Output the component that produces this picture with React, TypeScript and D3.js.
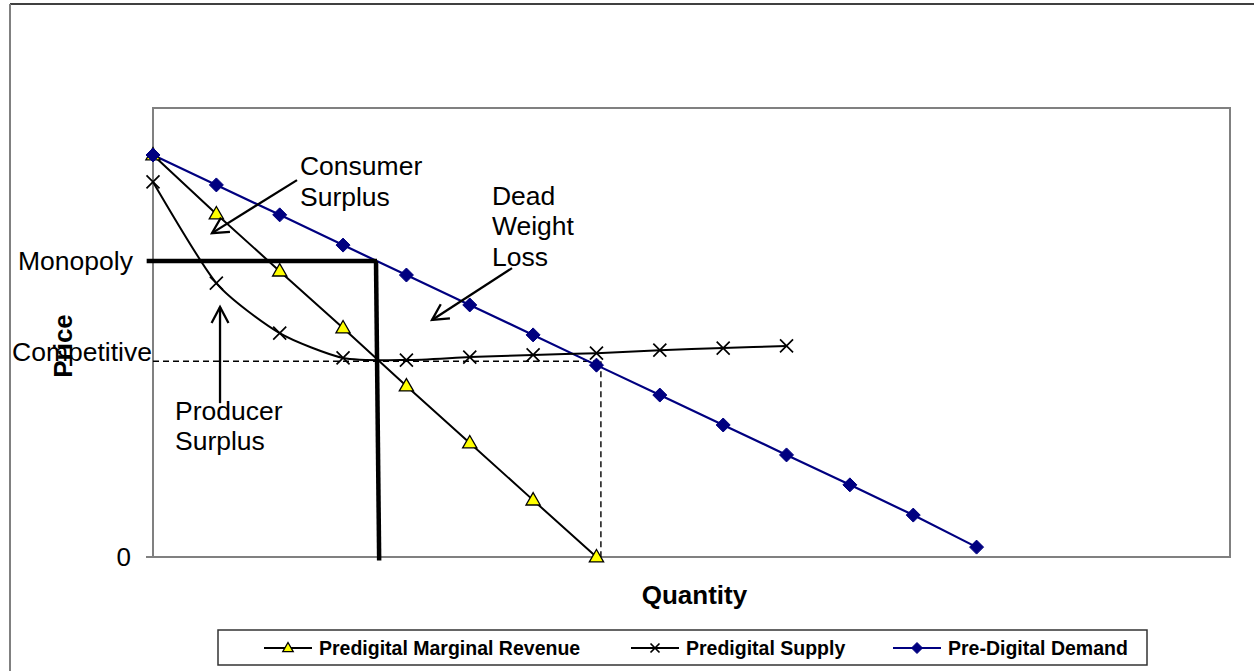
import React from "react";
import * as d3 from "d3";

// ---- data ----
const categories = ["1", "2", "3", "4", "5", "6", "7", "8", "9", "10", "11", "12", "13", "14", "15", "16", "17", "18"];
const demand = [13.43, 12.43, 11.43, 10.42, 9.42, 8.42, 7.42, 6.41, 5.41, 4.41, 3.41, 2.41, 1.4, 0.33];
const marginalRevenue = [13.43, 11.46, 9.55, 7.65, 5.71, 3.81, 1.9, 0];
const supply = [12.53, 9.15, 7.48, 6.65, 6.58, 6.68, 6.75, 6.81, 6.91, 6.98, 7.05];
const yTicks = [0];
const yDomain = [0, 15];

const monopolyPrice = 9.89;
const monopolyQty = 3.52;
const competitivePrice = 6.54;
const competitiveQty = 7.07;

const seriesNames = ["Predigital Marginal Revenue", "Predigital Supply", "Pre-Digital Demand"];

// annotations in data units (category index, price)
const annotations = [
  { lines: ["Consumer", "Surplus"], tx: 2.32, ty: 12.76, from: [2.273, 12.59], to: [0.931, 10.82] },
  { lines: ["Dead", "Weight", "Loss"], tx: 5.35, ty: 11.76, from: [5.667, 9.65], to: [4.404, 7.92] },
  { lines: ["Producer", "Surplus"], tx: 0.347, ty: 4.58, from: [1.058, 5.14], to: [1.058, 8.35] },
];

const W = 1254;
const H = 671;
const plot = { left: 153, top: 108, right: 1230, bottom: 557 };
const FONT = "Liberation Sans, Arial, Helvetica, sans-serif";

const x = d3.scaleLinear().domain([0, categories.length - 1]).range([plot.left, plot.right]);
const y = d3.scaleLinear().domain(yDomain).range([plot.bottom, plot.top]);

const straight = d3
  .line<number>()
  .x((_, i) => x(i))
  .y((d) => y(d));
const smooth = d3
  .line<number>()
  .x((_, i) => x(i))
  .y((d) => y(d))
  .curve(d3.curveCardinal.tension(0.35));

function Diamond({ cx, cy, r = 7 }: { cx: number; cy: number; r?: number }) {
  return <path d={`M${cx},${cy - r}L${cx + r},${cy}L${cx},${cy + r}L${cx - r},${cy}Z`} fill="#000080" stroke="#000080" strokeWidth={1} />;
}
function Triangle({ cx, cy, r = 7.5 }: { cx: number; cy: number; r?: number }) {
  return (
    <path
      d={`M${cx},${cy - r}L${cx + r * 0.95},${cy + r * 0.65}L${cx - r * 0.95},${cy + r * 0.65}Z`}
      fill="#ffff00"
      stroke="#000"
      strokeWidth={1.3}
    />
  );
}
function Cross({ cx, cy, r = 6.5 }: { cx: number; cy: number; r?: number }) {
  return <path d={`M${cx - r},${cy - r}L${cx + r},${cy + r}M${cx - r},${cy + r}L${cx + r},${cy - r}`} stroke="#000" strokeWidth={1.7} fill="none" />;
}

function Arrow({ from, to }: { from: number[]; to: number[] }) {
  const x1 = x(from[0]);
  const y1 = y(from[1]);
  const x2 = x(to[0]);
  const y2 = y(to[1]);
  const ang = Math.atan2(y2 - y1, x2 - x1);
  const L = 18;
  const a = (28 * Math.PI) / 180;
  const w1 = [x2 - L * Math.cos(ang - a), y2 - L * Math.sin(ang - a)];
  const w2 = [x2 - L * Math.cos(ang + a), y2 - L * Math.sin(ang + a)];
  return (
    <g stroke="#000" strokeWidth={2.3} fill="none">
      <line x1={x1} y1={y1} x2={x2} y2={y2} />
      <path d={`M${w1[0]},${w1[1]}L${x2},${y2}L${w2[0]},${w2[1]}`} />
    </g>
  );
}

export default function App() {
  const legendY = 648;
  const legendItems = [
    { lx: 264, kind: "tri" },
    { lx: 631, kind: "cross" },
    { lx: 893, kind: "dia" },
  ];
  return (
    <svg width={W} height={H} style={{ position: "absolute", left: 0, top: 0, background: "#fff" }} fontFamily={FONT}>
      <rect x={0} y={0} width={W} height={H} fill="#fff" />
      {/* outer frame */}
      <line x1={10} y1={4} x2={W} y2={4} stroke="#000" strokeWidth={1.5} />
      <line x1={10} y1={4} x2={10} y2={H} stroke="#808080" strokeWidth={2} />

      {/* plot area */}
      <rect
        x={plot.left}
        y={plot.top}
        width={plot.right - plot.left}
        height={plot.bottom - plot.top}
        fill="#fff"
        stroke="#808080"
        strokeWidth={2}
      />
      {yTicks.map((t) => (
        <g key={t}>
          <line x1={plot.left - 7} x2={plot.left} y1={y(t)} y2={y(t)} stroke="#808080" strokeWidth={2} />
          <text x={plot.left - 22} y={y(t)} dy="0.35em" textAnchor="end" fontSize={26}>
            {t}
          </text>
        </g>
      ))}

      {/* competitive dashed lines */}
      <g stroke="#000" strokeWidth={1.4} strokeDasharray="6,4" fill="none">
        <line x1={x(0)} x2={x(competitiveQty)} y1={y(competitivePrice)} y2={y(competitivePrice)} />
        <line x1={x(competitiveQty)} x2={x(competitiveQty)} y1={y(competitivePrice)} y2={y(0)} />
      </g>

      {/* series lines */}
      <path d={straight(demand) || ""} fill="none" stroke="#000080" strokeWidth={2.2} />
      <path d={straight(marginalRevenue) || ""} fill="none" stroke="#000" strokeWidth={2} />
      <path d={smooth(supply) || ""} fill="none" stroke="#000" strokeWidth={2} />

      {/* monopoly lines */}
      <g stroke="#000" strokeWidth={4.5} fill="none">
        <line x1={x(-0.1)} x2={x(monopolyQty) + 1} y1={y(monopolyPrice)} y2={y(monopolyPrice)} />
        <line x1={x(monopolyQty)} x2={x(monopolyQty + 0.05)} y1={y(monopolyPrice)} y2={y(-0.12)} />
      </g>

      {/* markers */}
      {supply.map((v, i) => (
        <Cross key={"s" + i} cx={x(i)} cy={y(v)} />
      ))}
      {marginalRevenue.map((v, i) => (
        <Triangle key={"m" + i} cx={x(i)} cy={y(v)} />
      ))}
      {demand.map((v, i) => (
        <Diamond key={"d" + i} cx={x(i)} cy={y(v)} />
      ))}

      {/* price level labels */}
      <text x={18} y={y(monopolyPrice)} dy="0.35em" fontSize={26.5}>
        Monopoly
      </text>
      <text x={12} y={y(competitivePrice) - 10} dy="0.35em" fontSize={26.5}>
        Competitive
      </text>

      {/* axis titles */}
      <text transform={`translate(72,346) rotate(-90)`} textAnchor="middle" fontSize={26} fontWeight="bold">
        Price
      </text>
      <text x={(plot.left + plot.right) / 2 + 3} y={604} textAnchor="middle" fontSize={26} fontWeight="bold">
        Quantity
      </text>

      {/* annotations */}
      {annotations.map((a, k) => (
        <g key={"a" + k}>
          <text x={x(a.tx)} y={y(a.ty)} fontSize={26.5}>
            {a.lines.map((l, j) => (
              <tspan key={j} x={x(a.tx)} dy={j === 0 ? 0 : 30.5}>
                {l}
              </tspan>
            ))}
          </text>
          <Arrow from={a.from} to={a.to} />
        </g>
      ))}

      {/* legend */}
      <rect x={218} y={630} width={929} height={35} fill="#fff" stroke="#333" strokeWidth={1.5} />
      {legendItems.map((it, k) => (
        <g key={"l" + k}>
          <line x1={it.lx} x2={it.lx + 48} y1={legendY} y2={legendY} stroke={k === 2 ? "#000080" : "#000"} strokeWidth={2.2} />
          {it.kind === "tri" && <Triangle cx={it.lx + 24} cy={legendY} r={5.5} />}
          {it.kind === "cross" && <Cross cx={it.lx + 24} cy={legendY} r={4.5} />}
          {it.kind === "dia" && <Diamond cx={it.lx + 24} cy={legendY} r={5.5} />}
          <text x={it.lx + 55} y={legendY} dy="0.35em" fontSize={19.5} fontWeight="bold">
            {seriesNames[k]}
          </text>
        </g>
      ))}
    </svg>
  );
}
